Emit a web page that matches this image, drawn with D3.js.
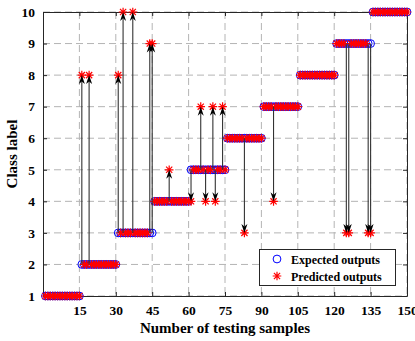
<!DOCTYPE html>
<html>
<head>
<meta charset="utf-8">
<script src="https://cdn.jsdelivr.net/npm/d3@7"></script>
<style>
  body { margin: 0; background: #fff; }
  svg text { font-family: "Liberation Serif", "Times New Roman", serif; font-weight: bold; fill: #000; }
</style>
</head>
<body>
<div id="chart"></div>
<script>
// class label of each testing sample (1..150)
const expected = [
  1,1,1,1,1,1,1,1,1,1,1,1,1,1,1,
  2,2,2,2,2,2,2,2,2,2,2,2,2,2,2,
  3,3,3,3,3,3,3,3,3,3,3,3,3,3,3,
  4,4,4,4,4,4,4,4,4,4,4,4,4,4,4,
  5,5,5,5,5,5,5,5,5,5,5,5,5,5,5,
  6,6,6,6,6,6,6,6,6,6,6,6,6,6,6,
  7,7,7,7,7,7,7,7,7,7,7,7,7,7,7,
  8,8,8,8,8,8,8,8,8,8,8,8,8,8,8,
  9,9,9,9,9,9,9,9,9,9,9,9,9,9,9,
  10,10,10,10,10,10,10,10,10,10,10,10,10,10,10
];
const predicted = [
  1,1,1,1,1,1,1,1,1,1,1,1,1,1,1,
  8,2,2,8,2,2,2,2,2,2,2,2,2,2,2,
  8,3,10,3,3,3,10,3,3,3,3,3,3,9,9,
  4,4,4,4,4,4,5,4,4,4,4,4,4,4,4,
  4,5,5,5,7,5,4,5,5,7,4,5,5,7,5,
  6,6,6,6,6,6,6,3,6,6,6,6,6,6,6,
  7,7,7,7,4,7,7,7,7,7,7,7,7,7,7,
  8,8,8,8,8,8,8,8,8,8,8,8,8,8,8,
  9,9,9,9,3,3,9,9,9,9,9,9,9,3,3,
  10,10,10,10,10,10,10,10,10,10,10,10,10,10,10
];
const xTicks = [15, 30, 45, 60, 75, 90, 105, 120, 135, 150];
const yTicks = [1, 2, 3, 4, 5, 6, 7, 8, 9, 10];

const width = 415, height = 341;
const mLeft = 43, mRight = 407, mTop = 12, mBottom = 296;

const svg = d3.select('#chart').append('svg')
  .attr('width', width)
  .attr('height', height);

const x = d3.scaleLinear().domain([0, 150]).range([mLeft, mRight]);
const y = d3.scaleLinear().domain([1, 10]).range([mBottom, mTop]);

const samples = expected.map((e, i) => ({n: i + 1, e: e, p: predicted[i]}));
const wrong = samples.filter(d => d.e !== d.p);

// grid
const grid = svg.append('g')
  .attr('stroke', '#b4b4b4')
  .attr('stroke-dasharray', '7,4')
  .attr('stroke-width', 1);
grid.selectAll('.gx').data(xTicks).enter().append('line')
  .attr('x1', d => x(d)).attr('x2', d => x(d))
  .attr('y1', mTop).attr('y2', mBottom);
grid.selectAll('.gy').data(yTicks).enter().append('line')
  .attr('x1', mLeft).attr('x2', mRight)
  .attr('y1', d => y(d)).attr('y2', d => y(d));

// axes (ticks point inward)
const tk = 4;
svg.append('g')
  .attr('transform', `translate(0,${mBottom})`)
  .call(d3.axisBottom(x).tickValues(xTicks).tickSizeInner(-tk).tickSizeOuter(0).tickPadding(9))
  .call(g => g.selectAll('text').style('font-size', '13.5px'));
svg.append('g')
  .attr('transform', `translate(${mLeft},0)`)
  .call(d3.axisLeft(y).tickValues(yTicks).tickSizeInner(-tk).tickSizeOuter(0).tickPadding(8))
  .call(g => g.selectAll('text').style('font-size', '13.5px'));
svg.append('g')
  .attr('transform', `translate(0,${mTop})`)
  .call(d3.axisTop(x).tickValues(xTicks).tickSizeInner(-tk).tickSizeOuter(0).tickFormat(''));
svg.append('g')
  .attr('transform', `translate(${mRight},0)`)
  .call(d3.axisRight(y).tickValues(yTicks).tickSizeInner(-tk).tickSizeOuter(0).tickFormat(''));
svg.selectAll('.domain, .tick line').attr('stroke', '#262626');
svg.selectAll('.tick text').attr('fill', '#000');

// markers
function star(g, cx, cy, r) {
  const a = r * 0.72;
  g.append('path')
    .attr('d', `M${cx - r},${cy}H${cx + r}M${cx},${cy - r}V${cy + r}` +
      `M${cx - a},${cy - a}L${cx + a},${cy + a}M${cx - a},${cy + a}L${cx + a},${cy - a}`)
    .attr('stroke', '#ff0000')
    .attr('stroke-width', 1.2)
    .attr('fill', 'none');
}

svg.append('g').selectAll('circle').data(samples).enter().append('circle')
  .attr('cx', d => x(d.n))
  .attr('cy', d => y(d.e))
  .attr('r', 3.9)
  .attr('fill', 'none')
  .attr('stroke', '#0000ff')
  .attr('stroke-width', 1);

const stars = svg.append('g');
samples.forEach(d => star(stars, x(d.n), y(d.p), 4.3));

// arrows from expected to predicted
const arrows = svg.append('g');
wrong.forEach(d => {
  const x0 = x(d.n), y0 = y(d.e), y1 = y(d.p);
  const dir = y1 < y0 ? 1 : -1; // 1 = pointing up
  const hl = 9, hw = 3;
  arrows.append('line')
    .attr('x1', x0).attr('x2', x0)
    .attr('y1', y0).attr('y2', y1 + dir * hl * 0.7)
    .attr('stroke', '#333')
    .attr('stroke-width', 1.1);
  arrows.append('path')
    .attr('d', `M${x0},${y1}L${x0 - hw},${y1 + dir * hl}L${x0},${y1 + dir * hl * 0.7}L${x0 + hw},${y1 + dir * hl}Z`)
    .attr('fill', '#000');
});

// axis titles
svg.append('text')
  .attr('x', (mLeft + mRight) / 2).attr('y', 333)
  .attr('text-anchor', 'middle')
  .style('font-size', '15px')
  .text('Number of testing samples');
svg.append('text')
  .attr('transform', `translate(17,${(mTop + mBottom) / 2}) rotate(-90)`)
  .attr('text-anchor', 'middle')
  .style('font-size', '15px')
  .text('Class label');

// legend
const lg = svg.append('g');
lg.append('rect')
  .attr('x', 259.5).attr('y', 249.5)
  .attr('width', 136).attr('height', 36)
  .attr('fill', '#fff')
  .attr('stroke', '#262626');
lg.append('circle')
  .attr('cx', 277).attr('cy', 259)
  .attr('r', 3.9)
  .attr('fill', 'none')
  .attr('stroke', '#0000ff');
star(lg, 277, 276, 4.3);
lg.append('text').attr('x', 291).attr('y', 263.5)
  .style('font-size', '12px').text('Expected outputs');
lg.append('text').attr('x', 291).attr('y', 280.5)
  .style('font-size', '12px').text('Predicted outputs');
</script>
</body>
</html>
